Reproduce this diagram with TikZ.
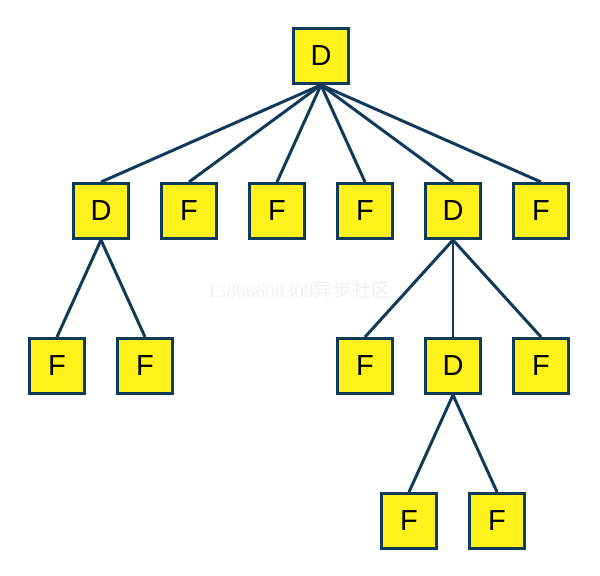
\documentclass[tikz,border=0pt]{standalone}
\usepackage{fontspec}
\setmainfont{Liberation Sans}
\newfontfamily\cjkfont{Noto Sans CJK SC}
\newfontfamily\markfont{Liberation Serif}
\usepackage{xcolor}
\usetikzlibrary{trees,positioning}

\definecolor{boxyellow}{HTML}{FFF21A}
\definecolor{boxborder}{HTML}{0F3A5A}

\begin{document}
\begin{tikzpicture}[
    every node/.style={draw=boxborder,fill=boxyellow,line width=1.7pt,
        minimum size=1.1cm,inner sep=0pt,font=\fontsize{16.5}{18}\selectfont},
    edge from parent/.style={draw=boxborder,line width=1.7pt},
    edge from parent path={(\tikzparentnode.south) -- (\tikzchildnode.north)},
    level distance=3.1cm,
    sibling distance=1.76cm,
]
\useasboundingbox (0,0) rectangle (12,-11.52);

% Faint watermark
\node[draw=none,fill=none,text=gray!12,font=\fontsize{11}{12}\selectfont] (mark)
    at (5.98,-5.8) {\markfont 13866608308\cjkfont 异步社区};

% Root directory
\node (root) at (6.42,-1.12) {D}
    % left directory
    child {node (dleft) {D}
        child {node (fa) {F}}
        child {node (fb) {F}}
    }
    child {node (f1) {F}}
    child {node (f2) {F}}
    child {node (f3) {F}}
    % right directory
    child {node (dright) {D}
        child {node (fc) {F}}
        child {node (dsub) {D}
            child {node (fe) {F}}
            child {node (ff) {F}}
        }
        child {node (fd) {F}}
    }
    child {node (f4) {F}};

\end{tikzpicture}
\end{document}
